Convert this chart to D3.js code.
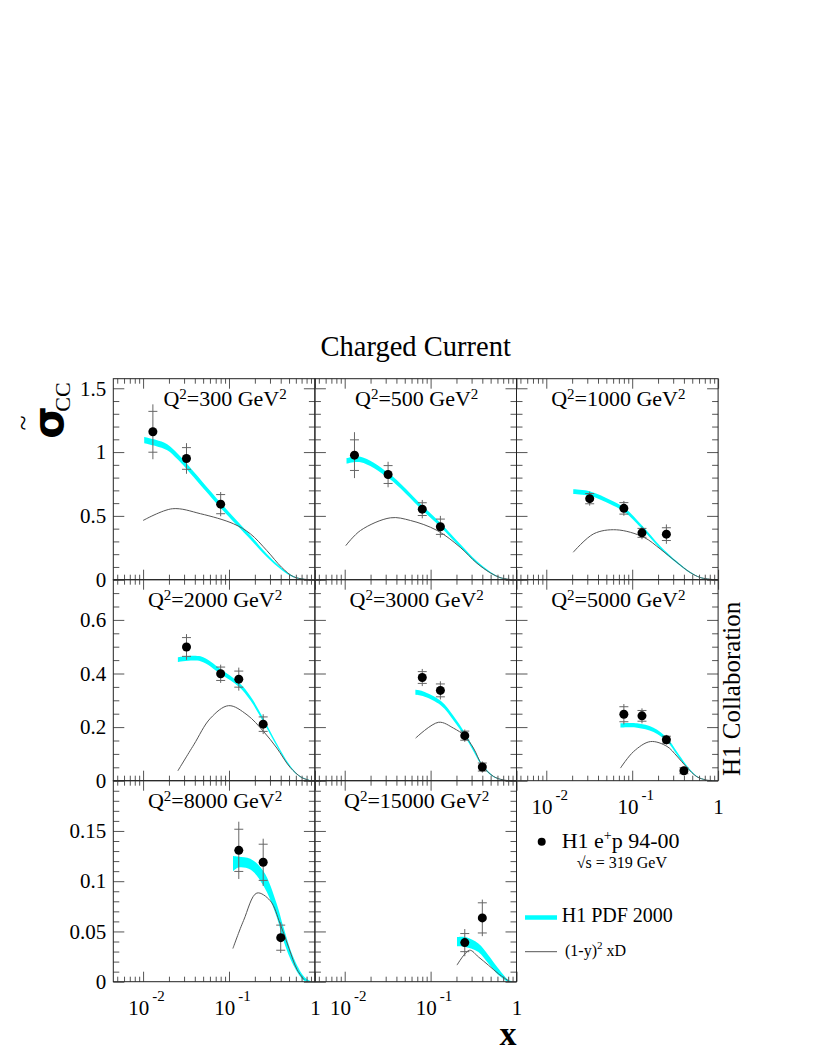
<!DOCTYPE html>
<html><head><meta charset="utf-8">
<script src="https://cdn.jsdelivr.net/npm/d3@7"></script>
<style>body{margin:0;background:#fff} svg{display:block}</style>
</head><body>
<script>
// ---------- DATA ----------
const q2Labels = ["300","500","1000","2000","3000","5000","8000","15000"];
const rowYMax = [1.575, 0.75, 0.2];
const rowMajorTicks = [[0,0.5,1,1.5],[0,0.2,0.4,0.6],[0,0.05,0.1,0.15]];
const rowMajorLabels = [["0","0.5","1","1.5"],["0","0.2","0.4","0.6"],["0","0.05","0.1","0.15"]];
const rowMinorStep = [0.1, 0.05, 0.01];
const xMajorTicks = [0.01, 0.1, 1];
const xTickBase = ["10","10","1"];
const xTickExp = ["-2","-1",""];

const pointX = [
  [0.013,0.032,0.08],
  [0.013,0.032,0.08,0.13],
  [0.032,0.08,0.13,0.25],
  [0.032,0.08,0.13,0.25],
  [0.08,0.13,0.25,0.40],
  [0.08,0.13,0.25,0.40],
  [0.13,0.25,0.40],
  [0.25,0.40]
];
const pointY = [
  [1.159,0.950,0.592],
  [0.976,0.824,0.553,0.415],
  [0.635,0.559,0.367,0.357],
  [0.499,0.399,0.379,0.211],
  [0.385,0.337,0.168,0.051],
  [0.248,0.242,0.153,0.037],
  [0.1307,0.1188,0.0438],
  [0.0389,0.0635]
];
const totErr = [
  [0.215,0.12,0.095],
  [0.18,0.10,0.072,0.085],
  [0.055,0.058,0.05,0.076],
  [0.048,0.034,0.043,0.037],
  [0.032,0.034,0.023,0.021],
  [0.038,0.028,0.018,0.016],
  [0.0285,0.0235,0.0152],
  [0.0135,0.0182]
];
const statErr = [
  [0.16,0.085,0.075],
  [0.12,0.07,0.05,0.06],
  [0.04,0.045,0.035,0.05],
  [0.035,0.025,0.03,0.027],
  [0.022,0.024,0.017,0.015],
  [0.028,0.02,0.013,0.011],
  [0.021,0.018,0.0125],
  [0.009,0.015]
];

// H1 PDF 2000 band: x, central value, half width
const fitX = [
  [0.0103,0.014,0.0191,0.025,0.032,0.08,0.177,0.276,0.41,0.562,0.73,0.93],
  [0.0105,0.0153,0.032,0.082,0.132,0.221,0.345,0.493,0.64,0.8,0.93],
  [0.0206,0.0325,0.0558,0.081,0.132,0.212,0.331,0.472,0.617,0.8,0.93],
  [0.0254,0.0466,0.08,0.131,0.177,0.25,0.36,0.514,0.67,0.85,0.93],
  [0.0665,0.081,0.132,0.185,0.248,0.315,0.40,0.538,0.7,0.9],
  [0.073,0.114,0.177,0.254,0.331,0.432,0.565,0.72,0.9],
  [0.1114,0.129,0.177,0.252,0.36,0.43,0.56,0.75,0.9],
  [0.203,0.253,0.36,0.471,0.615,0.8,0.9]
];
const fitC = [
  [1.094,1.072,1.038,0.968,0.89,0.582,0.333,0.189,0.084,0.024,0.005,0.0],
  [0.931,0.942,0.818,0.556,0.425,0.267,0.136,0.057,0.018,0.004,0.0],
  [0.69,0.674,0.608,0.548,0.407,0.254,0.136,0.057,0.018,0.003,0.0],
  [0.452,0.455,0.407,0.358,0.308,0.227,0.134,0.053,0.016,0.003,0.0],
  [0.33,0.325,0.289,0.233,0.174,0.116,0.057,0.016,0.003,0.0],
  [0.206,0.206,0.19,0.153,0.103,0.053,0.016,0.003,0.0],
  [0.1175,0.119,0.117,0.1027,0.0708,0.0477,0.0206,0.003,0.0],
  [0.0398,0.0395,0.0338,0.0222,0.0099,0.001,0.0]
];
const fitHW = [
  [0.024,0.024,0.024,0.023,0.022,0.02,0.016,0.012,0.008,0.005,0.003,0.001],
  [0.022,0.022,0.02,0.018,0.016,0.013,0.01,0.006,0.004,0.002,0.001],
  [0.018,0.018,0.017,0.016,0.014,0.011,0.008,0.005,0.003,0.002,0.001],
  [0.009,0.009,0.009,0.008,0.008,0.007,0.005,0.004,0.002,0.001,0.0005],
  [0.009,0.009,0.008,0.008,0.007,0.006,0.004,0.002,0.001,0.0005],
  [0.008,0.008,0.008,0.007,0.006,0.004,0.002,0.001,0.0005],
  [0.0075,0.0053,0.0054,0.0073,0.0066,0.0067,0.004,0.002,0.0005],
  [0.0046,0.0049,0.0042,0.0042,0.0033,0.001,0.0003]
];

// (1-y)^2 xD contribution
const valX = [
  [0.01,0.0219,0.0466,0.113,0.177,0.276,0.41,0.56,0.75,0.93],
  [0.0103,0.0153,0.0342,0.0583,0.119,0.221,0.345,0.493,0.64,0.84],
  [0.0206,0.0357,0.0655,0.136,0.212,0.331,0.472,0.62,0.85],
  [0.0254,0.0389,0.0608,0.099,0.162,0.252,0.36,0.514,0.7,0.85],
  [0.067,0.124,0.185,0.248,0.315,0.40,0.54,0.7,0.85],
  [0.073,0.104,0.163,0.254,0.331,0.432,0.565,0.72,0.85],
  [0.111,0.148,0.211,0.302,0.394,0.5,0.62,0.75],
  [0.203,0.284,0.36,0.47,0.615,0.8]
];
const valY = [
  [0.464,0.556,0.517,0.438,0.36,0.228,0.097,0.024,0.004,0.0],
  [0.267,0.386,0.485,0.464,0.386,0.254,0.13,0.055,0.017,0.002],
  [0.215,0.36,0.391,0.333,0.241,0.136,0.057,0.017,0.002],
  [0.037,0.134,0.233,0.28,0.246,0.184,0.122,0.05,0.012,0.002],
  [0.159,0.218,0.196,0.168,0.122,0.057,0.016,0.003,0.0],
  [0.047,0.109,0.146,0.128,0.092,0.05,0.015,0.003,0.0],
  [0.033,0.061,0.0882,0.0806,0.0576,0.033,0.012,0.002],
  [0.0165,0.0313,0.0247,0.0165,0.008,0.001]
];

// ---------- LAYOUT ----------
const W = 817, H = 1058;
const gridL = 113.3, gridT = 378.7, pw = 201.6, ph = 201;
const xDomain = [0.0045, 1];
const serif = "Liberation Serif, Times New Roman, serif";
const tickCol = "#555", frameCol = "#222";
const smooth = d3.curveCatmullRom.alpha(0.5);

const svg = d3.select("body").append("svg").attr("width", W).attr("height", H);

function minorXTicks() {
  const t = [];
  for (let k = -3; k <= 0; k++) for (let m = 1; m <= 9; m++) {
    const v = m * Math.pow(10, k);
    if (v >= xDomain[0] && v <= xDomain[1] + 1e-9 && m !== 1) t.push(v);
  }
  return t;
}
function minorYTicks(row) {
  const t = [], st = rowMinorStep[row];
  for (let i = 0; i * st <= rowYMax[row] + 1e-9; i++) {
    const v = +(i * st).toFixed(4);
    if (!rowMajorTicks[row].some(m => Math.abs(m - v) < 1e-9)) t.push(v);
  }
  return t;
}

const panels = d3.range(8).map(i => ({ i, col: i % 3, row: Math.floor(i / 3) }));

function scalesFor(p) {
  const x0 = gridL + p.col * pw, y0 = gridT + p.row * ph;
  const x = d3.scaleLog().domain(xDomain).range([x0, x0 + pw]);
  const y = d3.scaleLinear().domain([0, rowYMax[p.row]]).range([y0 + ph, y0]);
  return { x, y, x0, y0 };
}

function styleAxis(g) {
  g.select(".domain").remove();
  g.selectAll(".tick line").attr("stroke", tickCol).attr("stroke-width", 1);
}

panels.forEach(p => {
  const { x, y, x0, y0 } = scalesFor(p);
  const g = svg.append("g");
  const i = p.i;
  const clipId = "clip" + i;
  svg.append("clipPath").attr("id", clipId).append("rect")
    .attr("x", x0).attr("y", y0).attr("width", pw).attr("height", ph);
  const plot = g.append("g").attr("clip-path", `url(#${clipId})`);

  // band
  const band = fitX[i].map((v, k) => ({ x: v, lo: fitC[i][k] - fitHW[i][k], hi: fitC[i][k] + fitHW[i][k] }));
  plot.append("path").datum(band)
    .attr("d", d3.area().x(d => x(d.x)).y0(d => y(Math.max(0, d.lo))).y1(d => y(d.hi)).curve(smooth))
    .attr("fill", "#00ffff").attr("stroke", "none");

  // valence line
  const vl = valX[i].map((v, k) => [v, valY[i][k]]);
  plot.append("path").datum(vl)
    .attr("d", d3.line().x(d => x(d[0])).y(d => y(d[1])).curve(smooth))
    .attr("fill", "none").attr("stroke", "#555").attr("stroke-width", 1);

  // ticks
  const minX = minorXTicks();
  const mkX = (axisFn, vals, len) => g.append("g")
    .attr("transform", `translate(0,${axisFn === d3.axisBottom ? y0 + ph : y0})`)
    .call(axisFn(x).tickValues(vals).tickSize(-len).tickFormat(""))
    .call(styleAxis);
  mkX(d3.axisBottom, minX, 5); mkX(d3.axisBottom, xMajorTicks, 10);
  mkX(d3.axisTop, minX, 5); mkX(d3.axisTop, xMajorTicks, 10);

  const minY = minorYTicks(p.row);
  const mkY = (axisFn, vals, len) => g.append("g")
    .attr("transform", `translate(${axisFn === d3.axisLeft ? x0 : x0 + pw},0)`)
    .call(axisFn(y).tickValues(vals).tickSize(-len).tickFormat(""))
    .call(styleAxis);
  mkY(d3.axisLeft, minY, 6); mkY(d3.axisLeft, rowMajorTicks[p.row], 11);
  mkY(d3.axisRight, minY, 6); mkY(d3.axisRight, rowMajorTicks[p.row], 11);

  // frame
  g.append("rect").attr("x", x0).attr("y", y0).attr("width", pw).attr("height", ph)
    .attr("fill", "none").attr("stroke", frameCol).attr("stroke-width", 1);

  // error bars
  const pts = pointX[i].map((v, k) => ({ x: v, y: pointY[i][k], t: totErr[i][k], s: statErr[i][k] }));
  const eb = g.append("g").attr("stroke", "#666").attr("stroke-width", 1);
  pts.forEach(d => {
    eb.append("line").attr("x1", x(d.x)).attr("x2", x(d.x)).attr("y1", y(d.y - d.t)).attr("y2", y(d.y + d.t));
    [d.y - d.s, d.y + d.s].forEach(v => eb.append("line")
      .attr("x1", x(d.x) - 4.5).attr("x2", x(d.x) + 4.5).attr("y1", y(v)).attr("y2", y(v)));
  });
  g.selectAll("circle").data(pts).join("circle")
    .attr("cx", d => x(d.x)).attr("cy", d => y(d.y)).attr("r", 4.5).attr("fill", "#000");

  // Q2 label
  const lx = x0 + pw / 2 + (i === 0 ? 11 : 1);
  const t = g.append("text").attr("x", lx).attr("y", y0 + 27).attr("text-anchor", "middle")
    .attr("font-family", serif).attr("font-size", 22);
  t.append("tspan").text("Q");
  t.append("tspan").attr("font-size", 15).attr("dy", -7).text("2");
  t.append("tspan").attr("dy", 7).text("=" + q2Labels[i] + " GeV");
  t.append("tspan").attr("font-size", 15).attr("dy", -7).text("2");

  // y labels on left column
  if (p.col === 0) {
    g.append("g").attr("transform", `translate(${x0},0)`)
      .call(d3.axisLeft(y).tickValues(rowMajorTicks[p.row]).tickSize(0).tickPadding(7)
        .tickFormat((d, k) => rowMajorLabels[p.row][k]))
      .call(a => a.select(".domain").remove())
      .selectAll("text").attr("font-family", serif).attr("font-size", 21).attr("fill", "#000");
  }
  // x labels under panels that have nothing below
  if (p.row === 2 || p.i === 5) {
    xMajorTicks.forEach((v, k) => {
      const tx = g.append("text").attr("x", x(v) + (xTickExp[k] ? 3.5 : 0.5)).attr("y", y0 + ph + 33)
        .attr("text-anchor", "middle").attr("font-family", serif).attr("font-size", 21);
      tx.append("tspan").text(xTickBase[k]);
      if (xTickExp[k]) tx.append("tspan").attr("font-size", 15).attr("dy", -14).attr("dx", 3).text(xTickExp[k]);
    });
  }
});

// ---------- TITLES ----------
svg.append("text").attr("x", gridL + 1.5 * pw).attr("y", 356).attr("text-anchor", "middle")
  .attr("font-family", serif).attr("font-size", 28.5).text("Charged Current");

// y axis title (rotated)
svg.append("text").attr("transform", "translate(63,422.5) rotate(-90)").attr("text-anchor", "middle")
  .attr("font-family", "DejaVu Sans, sans-serif").attr("font-weight", "bold").attr("font-size", 42).text("σ");
svg.append("text").attr("transform", "translate(32,423) rotate(-90)").attr("text-anchor", "middle")
  .attr("font-family", serif).attr("font-size", 28).text("~");
svg.append("text").attr("transform", "translate(70,397) rotate(-90)").attr("text-anchor", "middle")
  .attr("font-family", serif).attr("font-size", 22).text("CC");

// x axis title
svg.append("text").attr("x", 508).attr("y", 1045).attr("text-anchor", "middle")
  .attr("font-family", serif).attr("font-weight", "bold").attr("font-size", 34).text("x");

// H1 Collaboration
svg.append("text").attr("transform", "translate(740,776) rotate(-90)").attr("text-anchor", "start")
  .attr("font-family", serif).attr("font-size", 25).text("H1 Collaboration");

// ---------- LEGEND ----------
const lg = svg.append("g").attr("font-family", serif);
lg.append("circle").attr("cx", 541.7).attr("cy", 841.7).attr("r", 4).attr("fill", "#000");
const l1 = lg.append("text").attr("x", 561.7).attr("y", 848).attr("font-size", 22);
l1.append("tspan").text("H1 e");
l1.append("tspan").attr("font-size", 14).attr("dy", -8).text("+");
l1.append("tspan").attr("dy", 8).text("p 94-00");
lg.append("text").attr("x", 576.7).attr("y", 868.3).attr("font-size", 16).text("√s = 319 GeV");
lg.append("line").attr("x1", 525).attr("x2", 557).attr("y1", 917.5).attr("y2", 917.5)
  .attr("stroke", "#00ffff").attr("stroke-width", 4.5);
lg.append("text").attr("x", 561.7).attr("y", 921.7).attr("font-size", 20).text("H1 PDF 2000");
lg.append("line").attr("x1", 525).attr("x2", 557).attr("y1", 951.7).attr("y2", 951.7)
  .attr("stroke", "#555").attr("stroke-width", 1);
const l3 = lg.append("text").attr("x", 565).attr("y", 956).attr("font-size", 16);
l3.append("tspan").text("(1-y)");
l3.append("tspan").attr("font-size", 11).attr("dy", -7).text("2");
l3.append("tspan").attr("dy", 7).text(" xD");
</script>
</body></html>
